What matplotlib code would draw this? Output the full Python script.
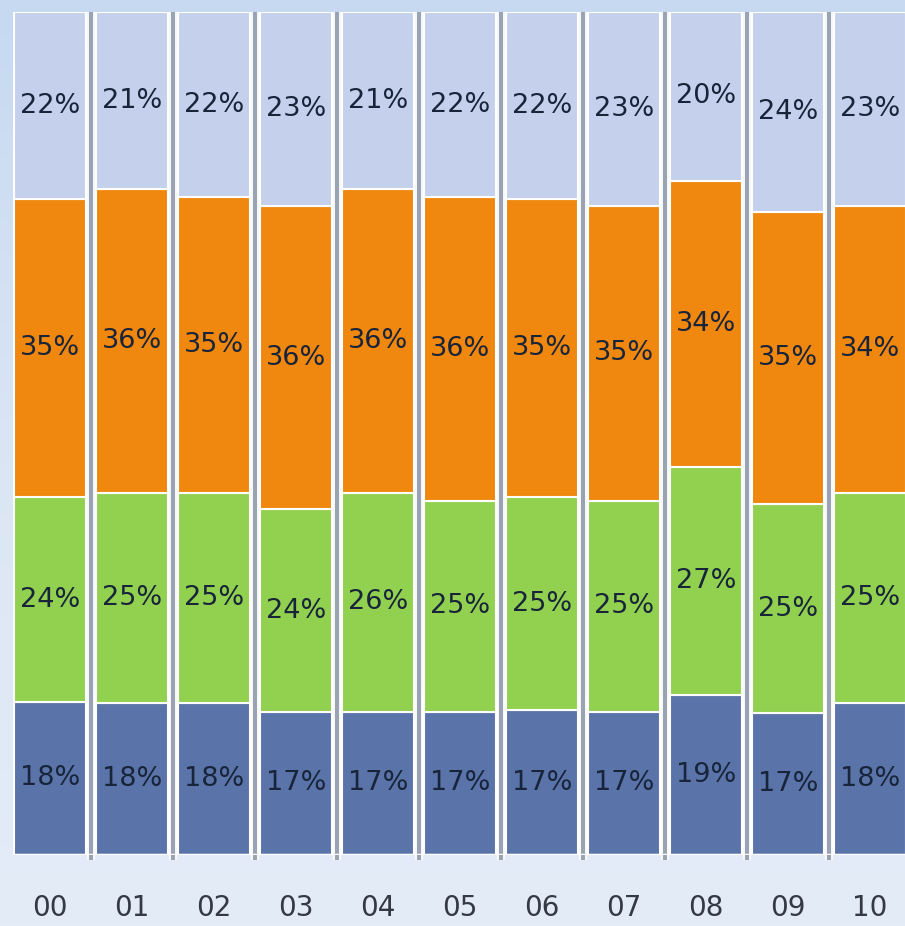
import numpy as np
import matplotlib
matplotlib.use("Agg")
import matplotlib.pyplot as plt
from matplotlib.colors import LinearSegmentedColormap

# ---- data (percent labels, bottom -> top) ----
categories = ["00", "01", "02", "03", "04", "05", "06", "07", "08", "09", "10"]
blue_vals   = [18, 18, 18, 17, 17, 17, 17, 17, 19, 17, 18]
green_vals  = [24, 25, 25, 24, 26, 25, 25, 25, 27, 25, 25]
orange_vals = [35, 36, 35, 36, 36, 36, 35, 35, 34, 35, 34]
light_vals  = [22, 21, 22, 23, 21, 22, 22, 23, 20, 24, 23]

series = [blue_vals, green_vals, orange_vals, light_vals]
colors = ["#5a74a9", "#92d14f", "#f0870e", "#c5d1ec"]

TEXT_COLOR = "#18243a"

fig = plt.figure(figsize=(9.05, 9.26), dpi=100)

# background gradient
bg = fig.add_axes([0, 0, 1, 1], zorder=0)
grad = np.linspace(0, 1, 256).reshape(-1, 1)
cmap = LinearSegmentedColormap.from_list("bg", ["#c6d9f1", "#dbe6f5", "#e4ecf8"])
bg.imshow(grad, aspect="auto", cmap=cmap, extent=[0, 1, 0, 1], origin="upper")
bg.set_axis_off()

ax = fig.add_axes([13 / 905, 71 / 926, 1 - 13 / 905, 843 / 926], zorder=1)
ax.patch.set_alpha(0)

x = np.arange(len(categories))
data = np.array(series, dtype=float)
pct = data / data.sum(axis=0) * 100

bottom = np.zeros(len(categories))
for k, (vals, col) in enumerate(zip(pct, colors)):
    ax.bar(x, vals, bottom=bottom, width=0.88, color=col,
           edgecolor="white", linewidth=1.5, zorder=3)
    for i in range(len(categories)):
        ax.text(x[i], bottom[i] + vals[i] / 2, f"{series[k][i]}%",
                ha="center", va="center", fontsize=19.5,
                color=TEXT_COLOR, zorder=5)
    bottom += vals

# grey separators between bars
for xs in x[:-1] + 0.5:
    ax.axvline(xs, ymin=-0.006, ymax=1, color="white", linewidth=5.5,
               zorder=2, clip_on=False, solid_capstyle="butt")
    ax.axvline(xs, ymin=-0.006, ymax=1, color="#9aa3b2", linewidth=3,
               zorder=2, clip_on=False, solid_capstyle="butt")

ax.axhline(0, color="white", linewidth=2.5, zorder=4)
ax.axhline(-0.15, color="#9aa3b2", linewidth=1, zorder=4)

ax.set_xlim(-0.45, 10.43)
ax.set_ylim(0, 100)
ax.set_xticks(x)
ax.set_xticklabels(categories, fontsize=20, color="#333a44")
ax.tick_params(axis="x", length=0, pad=28)
ax.set_yticks([])
for sp in ax.spines.values():
    sp.set_visible(False)

fig.savefig("out.png", dpi=100)
